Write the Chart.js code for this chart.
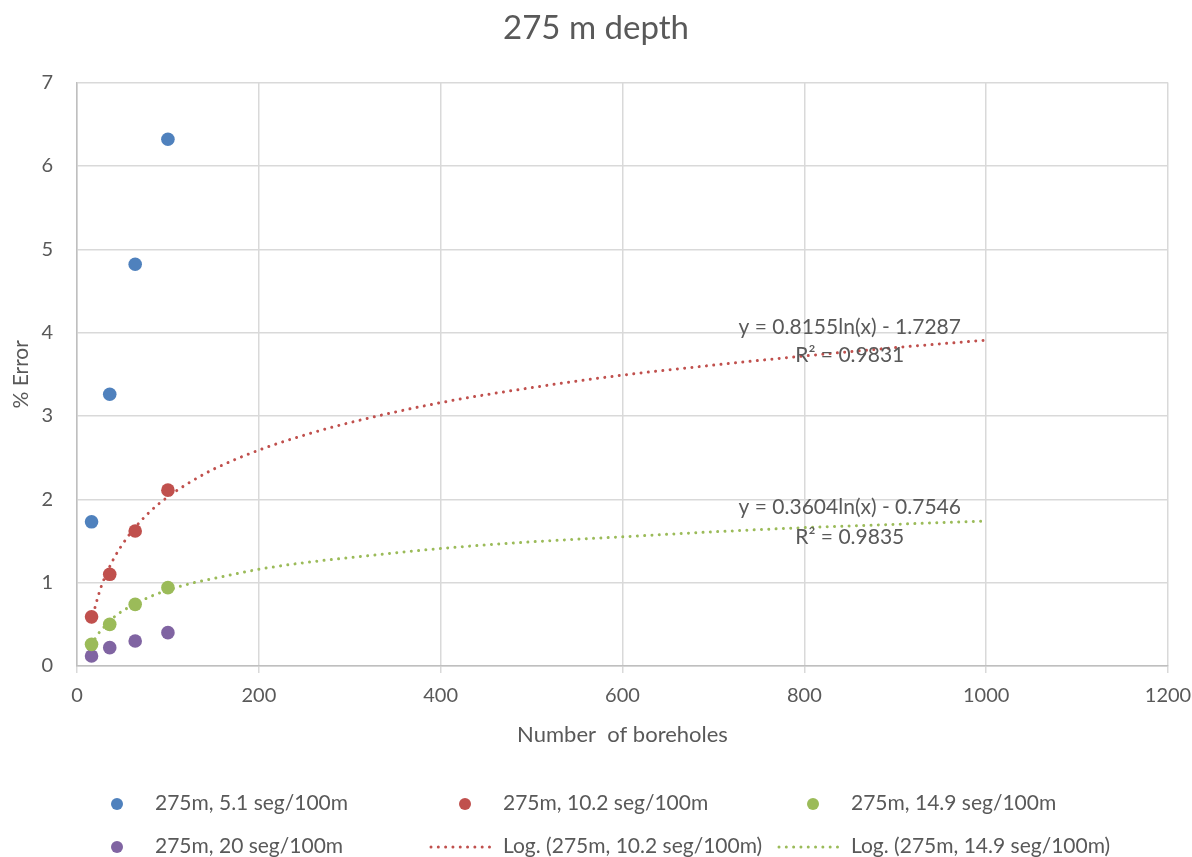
<!DOCTYPE html>
<html>
<head>
<meta charset="utf-8">
<script src="https://cdn.jsdelivr.net/npm/chart.js@4/dist/chart.umd.min.js"></script>
<style>
  html, body { margin: 0; padding: 0; background: #ffffff; }
  #wrap { width: 1192px; height: 857px; }
</style>
</head>
<body>
<div id="wrap"><canvas id="c" width="1192" height="857"></canvas></div>
<script>
// ---- data ----
const boreholes = [16, 36, 64, 100];
const err5_1  = [1.73, 3.26, 4.82, 6.32];
const err10_2 = [0.59, 1.10, 1.62, 2.11];
const err14_9 = [0.26, 0.50, 0.74, 0.94];
const err20   = [0.12, 0.22, 0.30, 0.40];

// trend-line samples
const trendX    = [16, 20, 25, 30, 40, 50, 60, 80, 100, 125, 150, 200, 250, 300, 400, 500, 600, 700, 800, 900, 1000];
const trend10_2 = [0.53, 0.71, 0.90, 1.05, 1.28, 1.46, 1.61, 1.85, 2.03, 2.21, 2.36, 2.59, 2.77, 2.92, 3.16, 3.34, 3.49, 3.61, 3.72, 3.82, 3.91];
const trend14_9 = [0.25, 0.33, 0.41, 0.47, 0.58, 0.66, 0.72, 0.83, 0.91, 0.99, 1.05, 1.16, 1.24, 1.30, 1.41, 1.49, 1.55, 1.61, 1.66, 1.70, 1.74];

const seriesLabels = ["275m, 5.1 seg/100m", "275m, 10.2 seg/100m", "275m, 14.9 seg/100m", "275m, 20 seg/100m",
                      "Log. (275m, 10.2 seg/100m)", "Log. (275m, 14.9 seg/100m)"];
const xTickValues = [0, 200, 400, 600, 800, 1000, 1200];
const yTickValues = [0, 1, 2, 3, 4, 5, 6, 7];

const eqText  = ["y = 0.8155ln(x) - 1.7287", "R² = 0.9831", "y = 0.3604ln(x) - 0.7546", "R² = 0.9835"];
const eqX     = [850, 850, 850, 850];
const eqY     = [4.06, 3.73, 1.90, 1.55];

// ---- styling ----
const BLUE = "#4f81bd", RED = "#c0504d", GREEN = "#9bbb59", PURPLE = "#8064a2";
const TXT = "#595959";
const FONT = "Lato, 'Open Sans', sans-serif";

function pts(xs, ys) { return xs.map((x, i) => ({x: x, y: ys[i]})); }

const markerDs = (label, data, color) => ({
  label, data: pts(boreholes, data), backgroundColor: color, borderColor: color,
  pointRadius: 6.8, pointHoverRadius: 6.8, pointBorderWidth: 0, showLine: false, order: 0
});
const trendDs = (label, data, color) => ({
  label, data: pts(trendX, data), borderColor: color, backgroundColor: color,
  showLine: true, pointRadius: 0, borderWidth: 3, borderDash: [0.01, 7.3], borderCapStyle: "round",
  cubicInterpolationMode: "monotone", order: 1
});

const datasets = [
  markerDs(seriesLabels[0], err5_1, BLUE),
  markerDs(seriesLabels[1], err10_2, RED),
  markerDs(seriesLabels[2], err14_9, GREEN),
  markerDs(seriesLabels[3], err20, PURPLE),
  trendDs(seriesLabels[4], trend10_2, RED),
  trendDs(seriesLabels[5], trend14_9, GREEN)
];

const overlay = {
  id: "overlay",
  afterDatasetsDraw(chart) {
    const ctx = chart.ctx, xs = chart.scales.x, ys = chart.scales.y;
    ctx.save();
    ctx.fillStyle = TXT;
    ctx.font = "21px " + FONT;
    ctx.textAlign = "center";
    ctx.textBaseline = "middle";
    eqText.forEach((t, i) => ctx.fillText(t, xs.getPixelForValue(eqX[i]), ys.getPixelForValue(eqY[i])));
    ctx.restore();
  },
  afterDraw(chart) {
    const ctx = chart.ctx;
    const colText = [155, 503, 851];
    const rowY = [803, 846];
    const items = [
      {ds: 0, col: 0, row: 0}, {ds: 1, col: 1, row: 0}, {ds: 2, col: 2, row: 0},
      {ds: 3, col: 0, row: 1}, {ds: 4, col: 1, row: 1}, {ds: 5, col: 2, row: 1}
    ];
    ctx.save();
    ctx.font = "21px " + FONT;
    ctx.textBaseline = "middle";
    ctx.textAlign = "left";
    items.forEach(it => {
      const d = chart.data.datasets[it.ds];
      const tx = colText[it.col], y = rowY[it.row];
      if (d.showLine) {
        ctx.strokeStyle = d.borderColor;
        ctx.lineWidth = 3;
        ctx.lineCap = "round";
        ctx.setLineDash([0.01, 7.3]);
        ctx.beginPath(); ctx.moveTo(tx - 72, y + 1); ctx.lineTo(tx - 8, y + 1); ctx.stroke();
        ctx.setLineDash([]);
      } else {
        ctx.fillStyle = d.backgroundColor;
        ctx.beginPath(); ctx.arc(tx - 38, y + 1, 6, 0, Math.PI * 2); ctx.fill();
      }
      ctx.fillStyle = TXT;
      ctx.fillText(d.label, tx, y);
    });
    ctx.restore();
  }
};

new Chart(document.getElementById("c"), {
  type: "scatter",
  data: { datasets },
  options: {
    responsive: false,
    animation: false,
    layout: { padding: { left: 0, right: 0, top: 0, bottom: 101 } },
    plugins: {
      legend: { display: false },
      tooltip: { enabled: false },
      title: {
        display: true, text: "275 m depth", color: TXT,
        font: { family: FONT, size: 33, weight: "normal" },
        padding: { top: 9, bottom: 34 }
      }
    },
    scales: {
      x: {
        type: "linear", min: 0, max: 1200,
        afterBuildTicks: s => { s.ticks = xTickValues.map(v => ({value: v})); },
        afterFit: s => { s.height = 90; s.paddingRight = 24; s.paddingLeft = 0; },
        grid: { color: "#d9d9d9", lineWidth: 1.5, drawTicks: true, tickLength: 7, tickColor: "#d9d9d9" },
        border: { color: "#bfbfbf", width: 1.5 },
        ticks: { color: TXT, font: { family: FONT, size: 20 }, padding: 11, maxRotation: 0,
                 callback: v => String(v) },
        title: { display: true, text: "Number  of boreholes", color: TXT,
                 font: { family: FONT, size: 22 }, padding: { top: 0, bottom: 8 } }
      },
      y: {
        type: "linear", min: 0, max: 7,
        afterBuildTicks: s => { s.ticks = yTickValues.map(v => ({value: v})); },
        afterFit: s => { s.width = 77; },
        grid: { color: "#d9d9d9", lineWidth: 1.5, drawTicks: false },
        border: { color: "#bfbfbf", width: 1.5 },
        ticks: { color: TXT, font: { family: FONT, size: 20 }, padding: 24, callback: v => String(v) },
        title: { display: true, text: "% Error", color: TXT,
                 font: { family: FONT, size: 21 }, padding: { top: 9, bottom: 0 } }
      }
    }
  },
  plugins: [overlay]
});
</script>
</body>
</html>
